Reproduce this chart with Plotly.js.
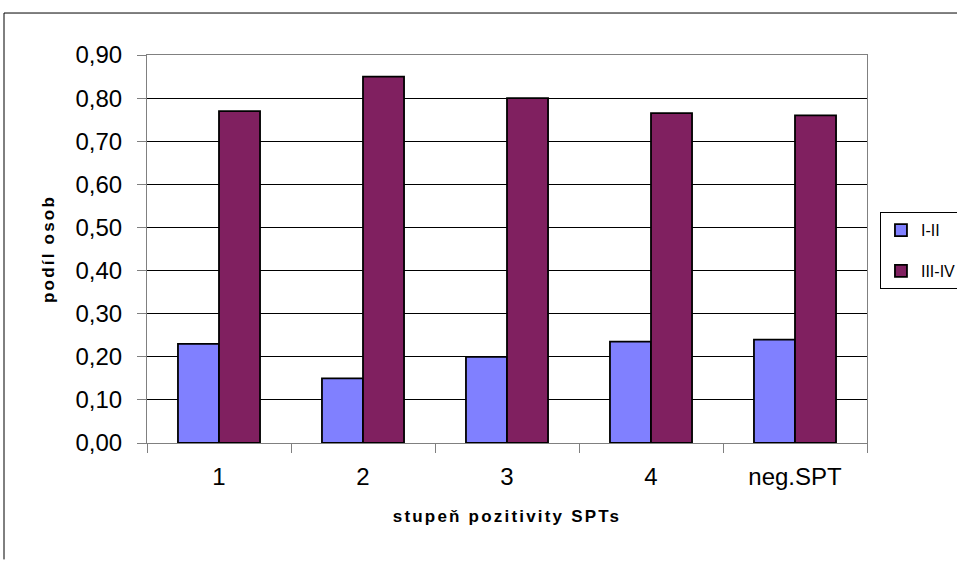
<!DOCTYPE html>
<html>
<head>
<meta charset="utf-8">
<script src="https://cdn.plot.ly/plotly-3.0.1.min.js"></script>
<style>
html,body{margin:0;padding:0;background:#fff;}
#chart{width:957px;height:561px;}
#chart .xtitle, #chart .ytitle{letter-spacing:2.2px;}
</style>
</head>
<body>
<div id="chart"></div>
<script>
var categories = ['1', '2', '3', '4', 'neg.SPT'];
var seriesNames = ['I-II', 'III-IV'];
var valuesI_II = [0.23, 0.15, 0.20, 0.235, 0.24];
var valuesIII_IV = [0.77, 0.85, 0.80, 0.765, 0.76];
var yTickVals = [0, 0.1, 0.2, 0.3, 0.4, 0.5, 0.6, 0.7, 0.8, 0.9];
var xAxisTitle = 'stupeň pozitivity SPTs';
var yAxisTitle = 'podíl osob';

var font = 'Liberation Sans, Arial, sans-serif';
var traces = [
  {type:'bar', name: seriesNames[0], x: categories, y: valuesI_II, legendgroup:'a',
   marker:{color:'#8080FF', line:{color:'#000000', width:1.8}}},
  {type:'bar', name: seriesNames[1], x: categories, y: valuesIII_IV, legendgroup:'b',
   marker:{color:'#802060', line:{color:'#000000', width:1.8}}}
];

var layout = {
  width: 957, height: 561,
  margin: {l:147, r:90, t:55, b:118, pad:0},
  paper_bgcolor:'#ffffff', plot_bgcolor:'#ffffff',
  separators: ',.',
  bargap: 0.43, bargroupgap: 0,
  showlegend: true,
  font: {family: font, color:'#000000'},
  xaxis: {
    type:'category',
    showline:true, linecolor:'#808080', linewidth:1, mirror:true,
    ticks:'outside', tickson:'boundaries', ticklen:9, tickcolor:'#808080',
    tickfont:{size:24, family:font}, ticklabelstandoff:12,
    title:{text: xAxisTitle, font:{size:17, family:font, weight:'bold'}, standoff:21},
    showgrid:false
  },
  yaxis: {
    range:[0, 0.9], tickvals: yTickVals, tickformat:'.2f',
    showline:true, linecolor:'#808080', linewidth:1, mirror:true,
    ticks:'outside', ticklen:9, tickcolor:'#808080',
    tickfont:{size:24, family:font}, ticklabelstandoff:10,
    gridcolor:'#000000', gridwidth:1,
    zeroline:false,
    title:{text: yAxisTitle, font:{size:17, family:font, weight:'bold'}, standoff:16}
  },
  legend: {
    xref:'container', x:0.9195, xanchor:'left', y:0.595, yanchor:'top',
    bordercolor:'#000000', borderwidth:1, bgcolor:'#ffffff',
    font:{size:16, family:font},
    traceorder:'grouped', tracegroupgap:17
  },
  shapes: [
    {type:'path', xref:'paper', yref:'paper',
     path:'M -0.1986,-0.3 L -0.1986,1.1082 L 1.2,1.1082',
     line:{color:'#000000', width:1}}
  ]
};

Plotly.newPlot('chart', traces, layout, {displayModeBar:false, staticPlot:true});
</script>
</body>
</html>
